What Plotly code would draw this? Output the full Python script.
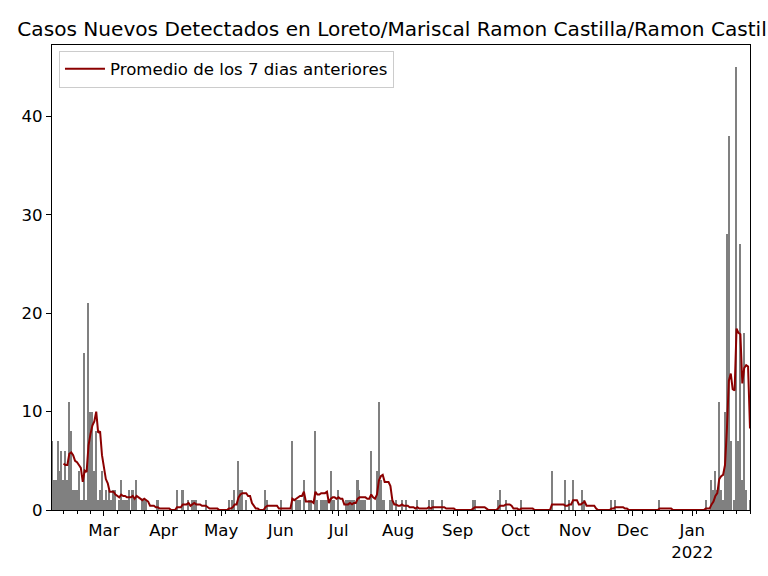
import pandas as pd
import plotly.graph_objects as go

# Daily new cases, one list per month (Feb 2 2021 .. Jan 31 2022)
feb_2021 = [7,3,3,7,4,6,3,6,3,11, 8,2,2,2,4,1,1,16,1,21, 10,10,4,8,1,2,4]
mar_2021 = [1,2,1,2,1,2,2,0,1,3, 1,1,1,2,0,2,1,3,0,0, 1,1,1,0,0,0,0,0,1,0, 0]
apr_2021 = [0,0,0,0,0,0,0,2,0,0, 2,0,0,1,0,1,1,1,0,0, 0,0,1,0,0,0,0,0,0,0]
may_2021 = [0,0,0,0,1,0,1,2,0,5, 2,2,0,1,0,0,0,0,0,0, 0,0,0,2,1,0,0,0,0,0, 0]
jun_2021 = [1,0,0,0,0,0,7,0,1,1, 1,0,3,0,0,1,1,0,8,1, 0,1,1,1,1,0,4,1,1,0]
jul_2021 = [2,0,0,0,1,1,1,1,1,0, 3,2,1,1,1,0,0,6,0,0, 4,11,3,1,1,0,0,1,1,0, 1]
aug_2021 = [0,0,1,0,1,0,0,0,0,0, 1,0,0,0,0,0,1,0,1,0, 0,0,0,1,0,0,0,0,0,0, 0]
sep_2021 = [0,0,0,0,0,0,0,0,1,1, 0,0,0,0,0,0,0,0,0,0, 0,1,2,0,0,1,0,0,0,0]
oct_2021 = [0,0,0,1,0,0,0,0,0,0, 0,0,0,0,0,0,0,0,0,4, 0,0,0,0,0,0,3,0,1,0, 3]
nov_2021 = [0,0,0,0,2,1,0,0,0,0, 0,0,0,0,0,0,0,0,0,1, 0,1,0,0,0,0,0,0,0,0]
dec_2021 = [0,0,0,0,0,0,0,0,0,0, 0,0,0,0,1,0,0,0,0,0, 0,0,0,0,0,0,0,0,0,0, 0]
jan_2022 = [0,0,0,0,0,0,0,1,0,0, 3,2,4,2,11,2,1,10,28,38, 7,0,1,45,7,27,3,18,2,0, 1]

start_date = "2021-02-02"
end_date = "2022-01-31"
month_ticks = ["2021-03-01","2021-04-01","2021-05-01","2021-06-01","2021-07-01",
               "2021-08-01","2021-09-01","2021-10-01","2021-11-01","2021-12-01","2022-01-01"]
month_labels = ["Mar","Apr","May","Jun","Jul","Aug","Sep","Oct","Nov","Dec","Jan<br>2022"]
y_ticks = [0, 10, 20, 30, 40]

values = (feb_2021 + mar_2021 + apr_2021 + may_2021 + jun_2021 + jul_2021 +
          aug_2021 + sep_2021 + oct_2021 + nov_2021 + dec_2021 + jan_2022)
dates = pd.date_range(start_date, end_date, freq="D")
s = pd.Series(values, index=dates)
avg = s.rolling(7).mean()

mondays = pd.date_range(start_date, end_date, freq="W-MON")

fig = go.Figure()
fig.add_trace(go.Bar(x=dates, y=s.values, marker=dict(color="#808080", line=dict(width=0)),
                     width=0.8 * 86400000, showlegend=False))
fig.add_trace(go.Scatter(x=avg.index, y=avg.values, mode="lines",
                         line=dict(color="#8b0000", width=2),
                         name="Promedio de los 7 dias anteriores"))

font = "DejaVu Sans, Arial, sans-serif"
fig.update_layout(
    width=768, height=576,
    margin=dict(l=52, r=18, t=45, b=66),
    paper_bgcolor="white", plot_bgcolor="white",
    bargap=0,
    font=dict(family=font, size=16.6, color="black"),
    title=dict(text="Casos Nuevos Detectados en Loreto/Mariscal Ramon Castilla/Ramon Castilla",
               x=0.5, xref="paper", xanchor="center", y=1 - 29 / 576, yanchor="middle",
               font=dict(family=font, size=20.1, color="black")),
    legend=dict(x=0.01, y=0.988, xanchor="left", yanchor="top", itemwidth=40,
                bgcolor="rgba(255,255,255,0.8)", bordercolor="#cccccc", borderwidth=1,
                font=dict(family=font, size=16.6)),
    xaxis=dict(range=[start_date, end_date], tickmode="array", tickvals=month_ticks,
               ticktext=month_labels, ticks="outside", ticklen=5, tickwidth=1,
               tickcolor="black", showline=True, linecolor="black", linewidth=1,
               mirror=True, showgrid=False, zeroline=False,
               minor=dict(tickmode="array", tickvals=list(mondays), ticks="outside",
                          ticklen=3, tickwidth=1, tickcolor="black", showgrid=False)),
    yaxis=dict(range=[0, 47.25], tickmode="array", tickvals=y_ticks, ticks="outside",
               ticklen=5, tickwidth=1, tickcolor="black", showline=True,
               linecolor="black", linewidth=1, mirror=True, showgrid=False,
               zeroline=False),
)
fig.write_html("out.html", config={"displayModeBar": False},
               post_script="document.body.style.margin='0';document.body.style.overflow='hidden';")
